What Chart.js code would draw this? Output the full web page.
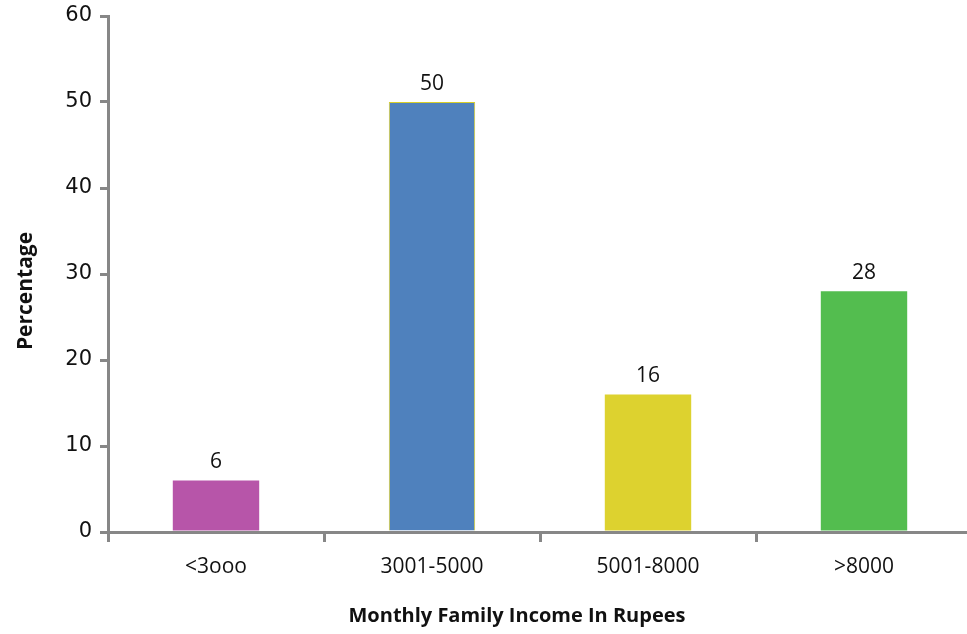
<!DOCTYPE html>
<html>
<head>
<meta charset="utf-8">
<script src="https://cdn.jsdelivr.net/npm/chart.js@4"></script>
<style>
  html, body { margin: 0; padding: 0; background: #fff; overflow: hidden; }
  #wrap { width: 975px; height: 634px; }
</style>
</head>
<body>
<div id="wrap"><canvas id="grafico" width="975" height="634"></canvas></div>
<script>
// faixas de renda e percentuais
const faixas = ["<3ooo", "3001-5000", "5001-8000", ">8000"];
const percentuais = [6, 50, 16, 28];
const coresBarras = ["#B755A9", "#4F81BD", "#DDD22F", "#53BD4F"];
const bordasBarras = ["#B755A9", "#D8CF2A", "#DDD22F", "#53BD4F"];
const largurasBorda = [0, 1, 0, 0];
const ticksY = [0, 10, 20, 30, 40, 50, 60];

const cinzaEixo = "#878787";

// escreve o valor em cima de cada barra
const rotulosValor = {
    id: "rotulosValor",
    afterDatasetsDraw(chart) {
        const ctx = chart.ctx;
        const meta = chart.getDatasetMeta(0);
        ctx.save();
        ctx.fillStyle = "#111";
        ctx.font = "21px 'Open Sans'";
        ctx.textAlign = "center";
        ctx.textBaseline = "alphabetic";
        meta.data.forEach((barra, i) => {
            ctx.fillText(String(percentuais[i]), barra.x, barra.y - 12);
        });
        ctx.restore();
    }
};

// titulos dos eixos
const titulosEixos = {
    id: "titulosEixos",
    afterDraw(chart) {
        const ctx = chart.ctx;
        const area = chart.chartArea;
        ctx.save();
        ctx.fillStyle = "#111";
        ctx.font = "bold 20px 'Open Sans'";
        ctx.textAlign = "center";
        ctx.textBaseline = "alphabetic";
        ctx.fillText("Monthly Family Income In Rupees", area.left + 409, area.bottom + 90);

        ctx.font = "bold 21px 'Open Sans'";
        ctx.translate(32, area.top + 275);
        ctx.rotate(-Math.PI / 2);
        ctx.fillText("Percentage", 0, 0);
        ctx.restore();
    }
};

const ctx = document.getElementById("grafico").getContext("2d");
new Chart(ctx, {
    type: "bar",
    data: {
        labels: faixas,
        datasets: [{
            data: percentuais,
            backgroundColor: coresBarras,
            borderColor: bordasBarras,
            borderWidth: largurasBorda,
            categoryPercentage: 1.0,
            barPercentage: 0.4
        }]
    },
    options: {
        responsive: false,
        animation: false,
        devicePixelRatio: 1,
        layout: { padding: { left: 0, top: 16, right: 3, bottom: 0 } },
        plugins: {
            legend: { display: false },
            tooltip: { enabled: false }
        },
        scales: {
            x: {
                afterFit(escala) {
                    escala.height = 102;
                    escala.paddingLeft = 0;
                    escala.paddingRight = 0;
                },
                border: { display: true, color: cinzaEixo, width: 3 },
                grid: {
                    offset: true,
                    drawOnChartArea: false,
                    drawTicks: true,
                    tickLength: 10,
                    color: cinzaEixo,
                    lineWidth: 3
                },
                ticks: {
                    color: "#111",
                    font: { family: "'Open Sans'", size: 21 },
                    padding: 12,
                    maxRotation: 0
                }
            },
            y: {
                min: 0,
                max: 60,
                afterFit(escala) {
                    escala.width = 108;
                    escala.paddingTop = 0;
                    escala.paddingBottom = 0;
                },
                afterBuildTicks(escala) {
                    escala.ticks = ticksY.map(v => ({ value: v }));
                },
                border: { display: true, color: cinzaEixo, width: 3 },
                grid: {
                    drawOnChartArea: false,
                    drawTicks: true,
                    tickLength: 8,
                    color: cinzaEixo,
                    lineWidth: 3
                },
                ticks: {
                    color: "#111",
                    font: { family: "'DejaVu Sans'", size: 21 },
                    padding: 8
                }
            }
        }
    },
    plugins: [rotulosValor, titulosEixos]
});
</script>
</body>
</html>
